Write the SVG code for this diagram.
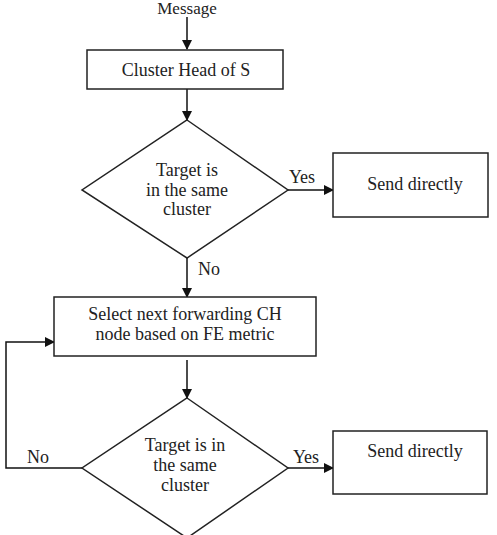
<svg xmlns="http://www.w3.org/2000/svg" width="497" height="535" viewBox="0 0 497 535">
<defs>
<marker id="ah" markerWidth="10" markerHeight="10" refX="9" refY="5" orient="auto" markerUnits="userSpaceOnUse">
<path d="M0,0 L10,5 L0,10 Z" fill="#111"/>
</marker>
<style>
.s{fill:#fff;stroke:#222;stroke-width:1.5}
.c{fill:none;stroke:#111;stroke-width:1.5}
text{font-family:"Liberation Serif","Times New Roman",serif;font-size:18px;fill:#222;text-anchor:middle}
</style>
</defs>
<rect width="497" height="535" fill="#fff"/>
<g id="connectors">
<line class="c" x1="187" y1="17" x2="187" y2="49" marker-end="url(#ah)"/>
<line class="c" x1="187" y1="89" x2="187" y2="120" marker-end="url(#ah)"/>
<line class="c" x1="288" y1="190" x2="333" y2="190" marker-end="url(#ah)"/>
<line class="c" x1="187" y1="258" x2="187" y2="297" marker-end="url(#ah)"/>
<line class="c" x1="187" y1="360" x2="187" y2="398" marker-end="url(#ah)"/>
<line class="c" x1="288" y1="468" x2="333" y2="468" marker-end="url(#ah)"/>
<polyline class="c" points="82,468 6,468 6,342 54,342" marker-end="url(#ah)"/>
<text x="302" y="183">Yes</text>
<text x="209" y="275">No</text>
<text x="38" y="463">No</text>
<text x="306" y="463">Yes</text>
</g>
<g id="message"><text x="187" y="14" style="font-size:17px">Message</text></g>
<g id="clusterHead">
<rect class="s" x="87" y="50" width="196" height="39"/>
<text x="186" y="76">Cluster Head of S</text>
</g>
<g id="decision1">
<polygon class="s" points="187,120 288,190 187,258 82,190"/>
<text x="187" y="176">Target is</text>
<text x="187" y="196">in the same</text>
<text x="187" y="215">cluster</text>
</g>
<g id="send1">
<rect class="s" x="333" y="153" width="155" height="64"/>
<text x="415" y="190">Send directly</text>
</g>
<g id="select">
<rect class="s" x="54" y="297" width="262" height="59"/>
<text x="185" y="320">Select next forwarding CH</text>
<text x="185" y="340">node based on FE metric</text>
</g>
<g id="decision2">
<polygon class="s" points="187,398 288,468 187,538 82,468"/>
<text x="185" y="451">Target is in</text>
<text x="185" y="471">the same</text>
<text x="185" y="491">cluster</text>
</g>
<g id="send2">
<rect class="s" x="333" y="431" width="154" height="63"/>
<text x="415" y="457">Send directly</text>
</g>
</svg>
